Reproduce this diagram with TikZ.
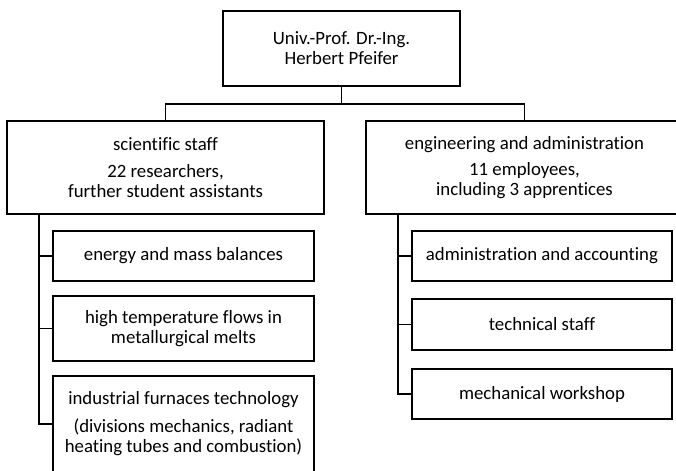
\documentclass[tikz,border=0pt]{standalone}
\usepackage{fontspec}
\setmainfont{Carlito}[Ligatures=NoCommon]

\begin{document}
\begin{tikzpicture}[x=0.75pt, y=-0.75pt, line width=1.4pt,
    box/.style={draw, align=center, inner sep=0pt,
      font=\fontsize{14.1}{15}\selectfont}]
      \clip (0,0) rectangle (676,471);
      \node[box, minimum width=177.75pt, minimum height=56.25pt] (head)
        at (341.5,48.5) {Univ.-Prof. Dr.-Ing.\\Herbert Pfeifer};
      \node[box, minimum width=237.75pt, minimum height=69.75pt] (sci)
        at (165.5,167.5)
        {scientific staff\\[5pt]22 researchers,\\further student assistants};
      \node[box, minimum width=237.75pt, minimum height=69.75pt] (eng)
        at (524.5,167.5)
        {engineering and administration\\[5pt]11 employees,\\including 3 apprentices};
      \node[box, minimum width=195.75pt, minimum height=37.5pt] (energy)
        at (183.5,256) {energy and mass balances};
      \node[box, minimum width=195.75pt, minimum height=48.75pt] (htflow)
        at (183.5,328.5) {high temperature flows in\\metallurgical melts};
      \node[box, minimum width=195.75pt, minimum height=72pt] (furnace)
        at (183.5,424)
        {industrial furnaces technology\\[6pt](divisions mechanics, radiant\\heating tubes and combustion)};
      \node[box, minimum width=195pt, minimum height=37.5pt] (admin)
        at (542,256) {administration and accounting};
      \node[box, minimum width=195pt, minimum height=38.25pt] (tech)
        at (542,324.5) {technical staff};
      \node[box, minimum width=195pt, minimum height=37.5pt] (workshop)
        at (542,394) {mechanical workshop};
      \coordinate (bus) at (341.5,104);
      \coordinate (scitrunk) at (39,214);
      \coordinate (engtrunk) at (398,214);
      \draw (head) -- (bus);
      \draw (sci) -- (sci |- bus) -- (eng |- bus) -- (eng);
      \draw (scitrunk) |- (furnace.west);
      \draw (scitrunk |- energy.west) -- (energy.west);
      \draw (scitrunk |- htflow.west) -- (htflow.west);
      \draw (engtrunk) |- (workshop.west);
      \draw (engtrunk |- admin.west) -- (admin.west);
      \draw (engtrunk |- tech.west) -- (tech.west);
    \end{tikzpicture}
\end{document}
